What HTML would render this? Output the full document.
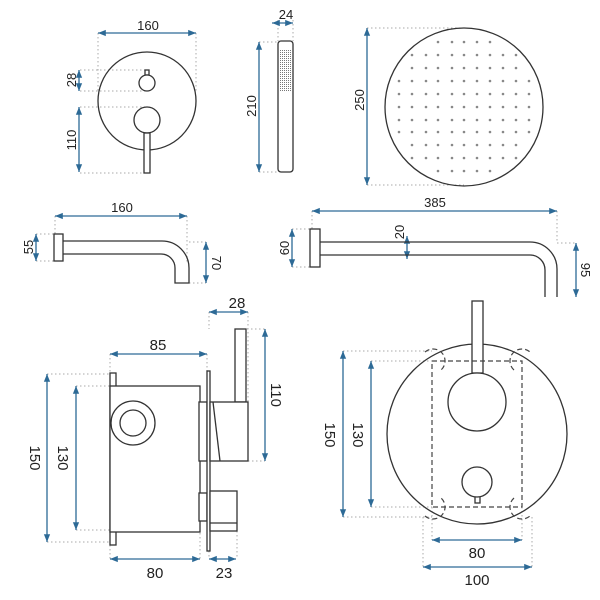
<!DOCTYPE html>
<html><head><style>body{margin:0;background:#fff}svg{display:block}</style></head><body>
<svg width="600" height="600" viewBox="0 0 600 600" xmlns="http://www.w3.org/2000/svg" font-family="Liberation Sans, sans-serif">
<defs>
<marker id="a" viewBox="0 0 10 10" refX="10" refY="5" markerWidth="6" markerHeight="6" orient="auto-start-reverse"><path d="M0,1L10,5L0,9z" fill="#2d6a96"/></marker>
<pattern id="g" width="2" height="2" patternUnits="userSpaceOnUse"><rect width="1" height="1" fill="#777"/></pattern>
</defs>
<g stroke="#aaa" stroke-width="1" stroke-dasharray="1.5 2.5" fill="none">
<path d="M98,33V92M196,33V92M80,70H147M80,91H147M80,107H147M80,173H144"/>
<path d="M278,20V41M293,20V41M259,42H278M259,172H278"/>
<path d="M367,28H464M367,185H464"/>
<path d="M55,216V234M187,216V262M36,234H54M36,261H54M189,242H206M189,283H206"/>
<path d="M312,211V229M557,211V243M292,229H310M292,267H310M557,243H576"/>
<path d="M110,354V373M207,354V371M47,374H110M76,386H110M47,542H110M76,530H110M209,312V329M248,312V402M247,329H265M248,461H265M110,545V559M200,533V559M209,551V559M237,531V559"/>
<path d="M343,351H432M371,361H432M343,517H432M371,507H432M432,507V540M522,507V540M423,517V567M532,517V567"/>
</g>
<g stroke="#2d6a96" stroke-width="1.3" fill="none" marker-start="url(#a)" marker-end="url(#a)">
<line x1="98" y1="33" x2="196" y2="33"/>
<line x1="79" y1="70" x2="79" y2="91"/>
<line x1="79" y1="107" x2="79" y2="172"/>
<line x1="272" y1="23" x2="293" y2="23"/>
<line x1="259" y1="42" x2="259" y2="172"/>
<line x1="367" y1="28" x2="367" y2="185"/>
<line x1="55" y1="216" x2="187" y2="216"/>
<line x1="36" y1="234" x2="36" y2="261"/>
<line x1="206" y1="242" x2="206" y2="283"/>
<line x1="312" y1="211" x2="557" y2="211"/>
<line x1="292" y1="229" x2="292" y2="267"/>
<line x1="407" y1="236" x2="407" y2="259"/>
<line x1="576" y1="243" x2="576" y2="297"/>
<line x1="110" y1="354" x2="207" y2="354"/>
<line x1="209" y1="312" x2="248" y2="312"/>
<line x1="265" y1="329" x2="265" y2="461"/>
<line x1="47" y1="374" x2="47" y2="542"/>
<line x1="76" y1="386" x2="76" y2="530"/>
<line x1="110" y1="559" x2="200" y2="559"/>
<line x1="209" y1="559" x2="236" y2="559"/>
<line x1="343" y1="351" x2="343" y2="517"/>
<line x1="371" y1="361" x2="371" y2="507"/>
<line x1="432" y1="540" x2="522" y2="540"/>
<line x1="423" y1="567" x2="532" y2="567"/>
</g>
<g stroke="#333" stroke-width="1.3" fill="#fff">
<circle cx="147" cy="101" r="49" fill="none"/>
<rect x="145" y="70" width="4" height="5"/>
<circle cx="147" cy="83" r="8"/>
<circle cx="147" cy="120" r="13"/>
<rect x="144" y="133" width="6" height="40"/>
<rect x="278" y="41" width="15" height="131" rx="3"/>
<rect x="280" y="49" width="11" height="42" fill="url(#g)" stroke="none"/>
<circle cx="464" cy="107" r="79" fill="none"/>
<rect x="54" y="234" width="9" height="27"/>
<path d="M63,241H162A27,27 0 0 1 189,268V283H175V268A14,14 0 0 0 161,254H63" fill="none"/>
<rect x="310" y="229" width="10" height="38"/>
<path d="M320,242H530A27,27 0 0 1 557,269V297M320,255H530A15,15 0 0 1 545,270V297" fill="none"/>
<rect x="110" y="373" width="6" height="172"/>
<rect x="110" y="386" width="90" height="146"/>
<circle cx="133" cy="423" r="22"/>
<circle cx="133" cy="423" r="13"/>
<rect x="199" y="402" width="8" height="59"/>
<rect x="199" y="493" width="8" height="28"/>
<rect x="207" y="371" width="3" height="180"/>
<rect x="235" y="329" width="11" height="73"/>
<rect x="210" y="402" width="38" height="59"/>
<line x1="213" y1="402" x2="220" y2="461"/>
<rect x="210" y="491" width="27" height="40"/>
<line x1="210" y1="523" x2="237" y2="523"/>
<circle cx="477" cy="434" r="90" fill="none"/>
<rect x="472" y="301" width="11" height="72"/>
<circle cx="477" cy="402" r="29"/>
<rect x="475" y="496" width="5" height="7"/>
<circle cx="477" cy="482" r="15"/>
</g>
<g stroke="#444" stroke-width="1.2" fill="none" stroke-dasharray="5 3">
<rect x="432" y="361" width="90" height="146"/>
<path d="M425,352A9,9 0 0 1 441,370M514,370A9,9 0 0 1 530,352M425,516A9,9 0 0 0 441,498M514,498A9,9 0 0 0 530,516"/>
</g>
<g fill="#888">
<circle cx="438" cy="42" r="1.3"/><circle cx="452" cy="42" r="1.3"/><circle cx="464" cy="42" r="1.3"/><circle cx="477" cy="42" r="1.3"/><circle cx="490" cy="42" r="1.3"/>
<circle cx="412" cy="55" r="1.3"/><circle cx="426" cy="55" r="1.3"/><circle cx="438" cy="55" r="1.3"/><circle cx="452" cy="55" r="1.3"/><circle cx="464" cy="55" r="1.3"/><circle cx="477" cy="55" r="1.3"/><circle cx="490" cy="55" r="1.3"/><circle cx="503" cy="55" r="1.3"/><circle cx="516" cy="55" r="1.3"/>
<circle cx="412" cy="68" r="1.3"/><circle cx="426" cy="68" r="1.3"/><circle cx="438" cy="68" r="1.3"/><circle cx="452" cy="68" r="1.3"/><circle cx="464" cy="68" r="1.3"/><circle cx="477" cy="68" r="1.3"/><circle cx="490" cy="68" r="1.3"/><circle cx="503" cy="68" r="1.3"/><circle cx="516" cy="68" r="1.3"/>
<circle cx="399" cy="81" r="1.3"/><circle cx="412" cy="81" r="1.3"/><circle cx="426" cy="81" r="1.3"/><circle cx="438" cy="81" r="1.3"/><circle cx="452" cy="81" r="1.3"/><circle cx="464" cy="81" r="1.3"/><circle cx="477" cy="81" r="1.3"/><circle cx="490" cy="81" r="1.3"/><circle cx="503" cy="81" r="1.3"/><circle cx="516" cy="81" r="1.3"/><circle cx="529" cy="81" r="1.3"/>
<circle cx="399" cy="94" r="1.3"/><circle cx="412" cy="94" r="1.3"/><circle cx="426" cy="94" r="1.3"/><circle cx="438" cy="94" r="1.3"/><circle cx="452" cy="94" r="1.3"/><circle cx="464" cy="94" r="1.3"/><circle cx="477" cy="94" r="1.3"/><circle cx="490" cy="94" r="1.3"/><circle cx="503" cy="94" r="1.3"/><circle cx="516" cy="94" r="1.3"/><circle cx="529" cy="94" r="1.3"/>
<circle cx="399" cy="107" r="1.3"/><circle cx="412" cy="107" r="1.3"/><circle cx="426" cy="107" r="1.3"/><circle cx="438" cy="107" r="1.3"/><circle cx="452" cy="107" r="1.3"/><circle cx="464" cy="107" r="1.3"/><circle cx="477" cy="107" r="1.3"/><circle cx="490" cy="107" r="1.3"/><circle cx="503" cy="107" r="1.3"/><circle cx="516" cy="107" r="1.3"/><circle cx="529" cy="107" r="1.3"/>
<circle cx="399" cy="120" r="1.3"/><circle cx="412" cy="120" r="1.3"/><circle cx="426" cy="120" r="1.3"/><circle cx="438" cy="120" r="1.3"/><circle cx="452" cy="120" r="1.3"/><circle cx="464" cy="120" r="1.3"/><circle cx="477" cy="120" r="1.3"/><circle cx="490" cy="120" r="1.3"/><circle cx="503" cy="120" r="1.3"/><circle cx="516" cy="120" r="1.3"/><circle cx="529" cy="120" r="1.3"/>
<circle cx="399" cy="132" r="1.3"/><circle cx="412" cy="132" r="1.3"/><circle cx="426" cy="132" r="1.3"/><circle cx="438" cy="132" r="1.3"/><circle cx="452" cy="132" r="1.3"/><circle cx="464" cy="132" r="1.3"/><circle cx="477" cy="132" r="1.3"/><circle cx="490" cy="132" r="1.3"/><circle cx="503" cy="132" r="1.3"/><circle cx="516" cy="132" r="1.3"/><circle cx="529" cy="132" r="1.3"/>
<circle cx="412" cy="145" r="1.3"/><circle cx="426" cy="145" r="1.3"/><circle cx="438" cy="145" r="1.3"/><circle cx="452" cy="145" r="1.3"/><circle cx="464" cy="145" r="1.3"/><circle cx="477" cy="145" r="1.3"/><circle cx="490" cy="145" r="1.3"/><circle cx="503" cy="145" r="1.3"/><circle cx="516" cy="145" r="1.3"/>
<circle cx="412" cy="158" r="1.3"/><circle cx="426" cy="158" r="1.3"/><circle cx="438" cy="158" r="1.3"/><circle cx="452" cy="158" r="1.3"/><circle cx="464" cy="158" r="1.3"/><circle cx="477" cy="158" r="1.3"/><circle cx="490" cy="158" r="1.3"/><circle cx="503" cy="158" r="1.3"/><circle cx="516" cy="158" r="1.3"/>
<circle cx="438" cy="171" r="1.3"/><circle cx="452" cy="171" r="1.3"/><circle cx="464" cy="171" r="1.3"/><circle cx="477" cy="171" r="1.3"/><circle cx="490" cy="171" r="1.3"/>
</g>
<g fill="#222" font-size="13" text-anchor="middle">
<text x="148" y="30">160</text>
<text x="286" y="19">24</text>
<text x="122" y="212">160</text>
<text x="435" y="207">385</text>
<text transform="translate(76,80) rotate(-90)">28</text>
<text transform="translate(76,140) rotate(-90)">110</text>
<text transform="translate(256,106) rotate(-90)">210</text>
<text transform="translate(364,100) rotate(-90)">250</text>
<text transform="translate(33,247) rotate(-90)">55</text>
<text transform="translate(289,248) rotate(-90)">60</text>
<text transform="translate(404,232) rotate(-90)">20</text>
<text transform="translate(212,263) rotate(90)">70</text>
<text transform="translate(581,270) rotate(90)">95</text>
</g>
<g fill="#222" font-size="15" text-anchor="middle">
<text x="158" y="350">85</text>
<text x="237" y="308">28</text>
<text x="155" y="578">80</text>
<text x="224" y="578">23</text>
<text x="477" y="558">80</text>
<text x="477" y="585">100</text>
<text transform="translate(271,395) rotate(90)">110</text>
<text transform="translate(30,458) rotate(90)">150</text>
<text transform="translate(58,458) rotate(90)">130</text>
<text transform="translate(325,435) rotate(90)">150</text>
<text transform="translate(353,435) rotate(90)">130</text>
</g>
</svg>
</body></html>
